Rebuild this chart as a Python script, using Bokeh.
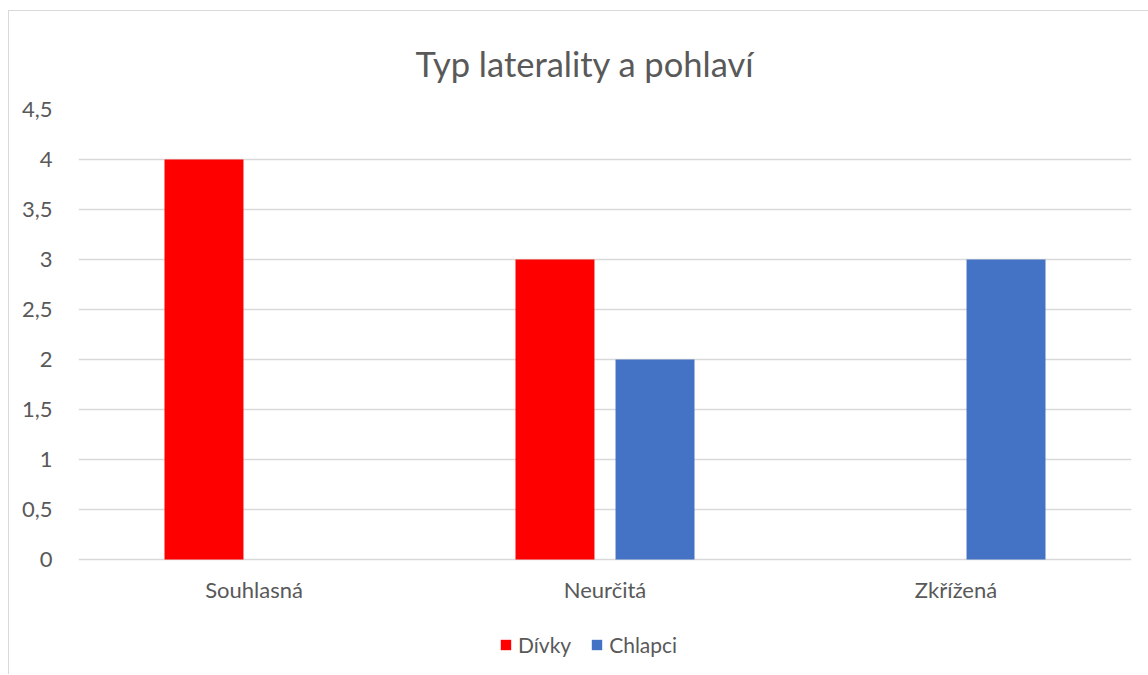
from bokeh.plotting import figure
from bokeh.models import ColumnDataSource, Legend, LegendItem, FixedTicker, Range1d
from bokeh.transform import dodge
from bokeh.embed import file_html
from bokeh.resources import INLINE

categories = ["Souhlasná", "Neurčitá", "Zkřížená"]
divky = [4, 3, 0]
chlapci = [0, 2, 3]
y_ticks = [0, 0.5, 1, 1.5, 2, 2.5, 3, 3.5, 4, 4.5]
y_tick_labels = ["0", "0,5", "1", "1,5", "2", "2,5", "3", "3,5", "4", "4,5"]
title_text = "Typ laterality a pohlaví"
series_names = ["Dívky", "Chlapci"]

FONT = "Lato"
TXT = "#595959"
GRID = "#d9d9d9"

src = ColumnDataSource(dict(cat=categories, divky=divky, chlapci=chlapci))

p = figure(x_range=categories, y_range=Range1d(-1.15, 4.5),
           frame_width=1053, frame_height=565,
           min_border_left=69, min_border_right=17,
           min_border_top=98, min_border_bottom=0,
           output_backend="svg", toolbar_location=None,
           title=title_text)
p.styles = {"border-left": "1px solid #d9d9d9", "border-top": "1px solid #d9d9d9",
            "margin-left": "8px", "margin-top": "10px"}
p.outline_line_color = None

p.title.align = "left"
p.title.text_font = FONT
p.title.text_font_size = "34.5px"
p.title.text_font_style = "normal"
p.title.text_color = TXT
p.title.standoff = 52
p.title.offset = 337

r1 = p.vbar(x=dodge("cat", -0.1425, range=p.x_range), top="divky", width=0.225,
            source=src, color="#FF0000", line_color=None)
r2 = p.vbar(x=dodge("cat", 0.1425, range=p.x_range), top="chlapci", width=0.225,
            source=src, color="#4472C4", line_color=None)

p.yaxis.ticker = FixedTicker(ticks=y_ticks)
p.yaxis.major_label_overrides = {t: l for t, l in zip(y_ticks, y_tick_labels)}
p.ygrid.ticker = FixedTicker(ticks=y_ticks)
p.xaxis.fixed_location = 0
for ax in (p.xaxis, p.yaxis):
    ax.axis_line_color = None
    ax.major_tick_line_color = None
    ax.minor_tick_line_color = None
    ax.major_label_text_font = FONT
    ax.major_label_text_font_size = "22px"
    ax.major_label_text_color = TXT
p.yaxis.major_label_standoff = 20
p.xaxis.major_label_standoff = 10

p.xgrid.grid_line_color = None
p.ygrid.grid_line_color = GRID
p.ygrid.grid_line_width = 1.5

legend = Legend(items=[LegendItem(label=series_names[0], renderers=[r1]),
                       LegendItem(label=series_names[1], renderers=[r2])],
                orientation="horizontal", location=(421, 17))
legend.border_line_color = None
legend.background_fill_alpha = 0
legend.padding = 0
legend.margin = 0
legend.glyph_width = 13
legend.glyph_height = 13
legend.label_standoff = 6
legend.spacing = 19
legend.label_text_font = FONT
legend.label_text_font_size = "21px"
legend.label_text_color = TXT
p.add_layout(legend, "center")

open("out.html", "w").write(file_html(p, INLINE))
